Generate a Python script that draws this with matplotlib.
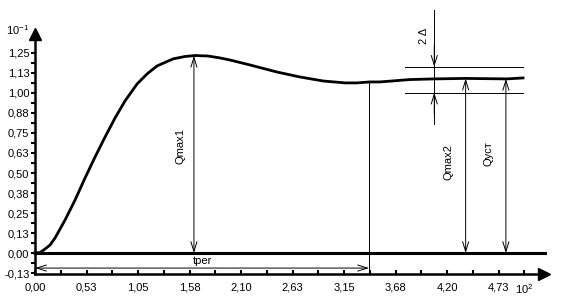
import numpy as np
import matplotlib
matplotlib.use("Agg")
from matplotlib import pyplot as plt

plt.rcParams['font.family'] = ['Liberation Sans', 'DejaVu Sans']
plt.rcParams['mathtext.fontset'] = 'custom'
plt.rcParams['mathtext.rm'] = 'Liberation Sans'
plt.rcParams['mathtext.it'] = 'Liberation Sans:italic'

# transient response curve, x in 10^2, y in 10^-1
t_vals = [0.000, 0.051, 0.102, 0.153, 0.204, 0.306, 0.408, 0.510, 0.612, 0.714,
          0.816, 0.917, 1.040, 1.142, 1.244, 1.407, 1.529, 1.631, 1.764,
          1.886, 1.988, 2.192, 2.467, 2.701, 2.936, 3.160, 3.282, 3.415, 3.517,
          3.823, 4.077, 4.383, 4.811, 4.975]
q_vals = [0.000, 0.003, 0.025, 0.050, 0.094, 0.206, 0.331, 0.469, 0.600, 0.725,
          0.844, 0.950, 1.056, 1.119, 1.169, 1.213, 1.228, 1.234, 1.231,
          1.219, 1.206, 1.175, 1.131, 1.100, 1.075, 1.063, 1.063, 1.069, 1.069,
          1.084, 1.088, 1.091, 1.088, 1.094]

y_tick_vals = [-0.125, 0.0, 0.125, 0.25, 0.375, 0.5, 0.625, 0.75, 0.875, 1.0, 1.125, 1.25]
y_tick_labels = ['-0,13', '0,00', '0,13', '0,25', '0,38', '0,50', '0,63', '0,75',
                 '0,88', '1,00', '1,13', '1,25']
x_tick_vals = [0.0, 0.525, 1.05, 1.575, 2.1, 2.625, 3.15, 3.675, 4.2, 4.725, 4.9875]
x_tick_labels = ['0,00', '0,53', '1,05', '1,58', '2,10', '2,63', '3,15', '3,68',
                 '4,20', '4,73', r'$\mathregular{10^2}$']

# marked quantities
t_qmax1, q_max1 = 1.62, 1.232
t_qmax2, q_max2 = 4.39, 1.090
t_qust, q_ust = 4.80, 1.088
t_per, q_per = 3.405, 1.069
band_lo, band_hi = 1.002, 1.164
band_x = (3.77, 4.97)
t_delta = 4.07

fs = 8

fig = plt.figure(figsize=(5.61, 3.06), dpi=100)
ax = fig.add_axes([0, 0, 1, 1])
ax.set_xlim(-0.357, 5.362)
ax.set_ylim(-0.331, 1.581)

for s in ['top', 'right']:
    ax.spines[s].set_visible(False)
ax.spines['left'].set_position(('data', 0))
ax.spines['bottom'].set_position(('data', -0.13))
ax.spines['left'].set_bounds(-0.13, 1.36)
ax.spines['bottom'].set_bounds(0, 5.18)
ax.spines['left'].set_linewidth(1.8)
ax.spines['bottom'].set_linewidth(1.8)
ax.plot([0], [1.37], marker='^', color='black', markersize=8, clip_on=False)
ax.plot([5.19], [-0.13], marker='>', color='black', markersize=8, clip_on=False)

ax.set_yticks(y_tick_vals)
ax.set_yticklabels(y_tick_labels, fontsize=fs)
ax.set_yticks(np.arange(-0.0625, 1.3, 0.125), minor=True)
ax.set_xticks(x_tick_vals)
ax.set_xticklabels(x_tick_labels, fontsize=fs)
ax.set_xticks(np.arange(0.2625, 4.8, 0.525), minor=True)
ax.tick_params(axis='y', which='both', direction='out', length=3, width=1.5, pad=1)
ax.tick_params(axis='x', which='both', direction='in', length=3, width=1.5, pad=6)

# zero line and response curve
ax.plot([0, 5.2], [0, 0], color='black', lw=2.2)
ax.plot(t_vals, q_vals, color='black', lw=2)

arr = dict(arrowstyle='<->,head_length=0.7,head_width=0.22', color='black', lw=0.7,
           shrinkA=0, shrinkB=0)
one = dict(arrowstyle='->,head_length=0.7,head_width=0.22', color='black', lw=0.7,
           shrinkA=0, shrinkB=0)

ax.annotate('', xy=(t_qmax1, q_max1), xytext=(t_qmax1, 0), arrowprops=arr)
ax.annotate('', xy=(t_qmax2, q_max2), xytext=(t_qmax2, 0), arrowprops=arr)
ax.annotate('', xy=(t_qust, q_ust), xytext=(t_qust, 0), arrowprops=arr)
ax.annotate('', xy=(0, -0.094), xytext=(t_per, -0.094), arrowprops=arr)
ax.plot([t_per, t_per], [q_per, -0.1], color='black', lw=0.7)

# tolerance band 2 delta
ax.plot(band_x, [band_hi, band_hi], color='black', lw=0.7)
ax.plot(band_x, [band_lo, band_lo], color='black', lw=0.7)
ax.plot([t_delta, t_delta], [1.52, 0.806], color='black', lw=0.7)
ax.annotate('', xy=(t_delta, band_hi), xytext=(t_delta, 1.30), arrowprops=one)
ax.annotate('', xy=(t_delta, band_lo), xytext=(t_delta, 0.87), arrowprops=one)

ax.text(1.48, 0.67, 'Qmax1', rotation=90, fontsize=fs, ha='center', va='center')
ax.text(4.22, 0.57, 'Qmax2', rotation=90, fontsize=fs, ha='center', va='center')
ax.text(4.62, 0.62, 'Qуст', rotation=90, fontsize=fs, ha='center', va='center')
ax.text(1.71, -0.05, 'tper', fontsize=fs, ha='center', va='center')
ax.text(3.97, 1.356, '2 Δ', rotation=90, fontsize=fs, ha='center', va='center')
ax.text(-0.06, 1.39, r'$\mathregular{10^{-1}}$', fontsize=fs, ha='right', va='center')

fig.savefig('out.png', dpi=100)
